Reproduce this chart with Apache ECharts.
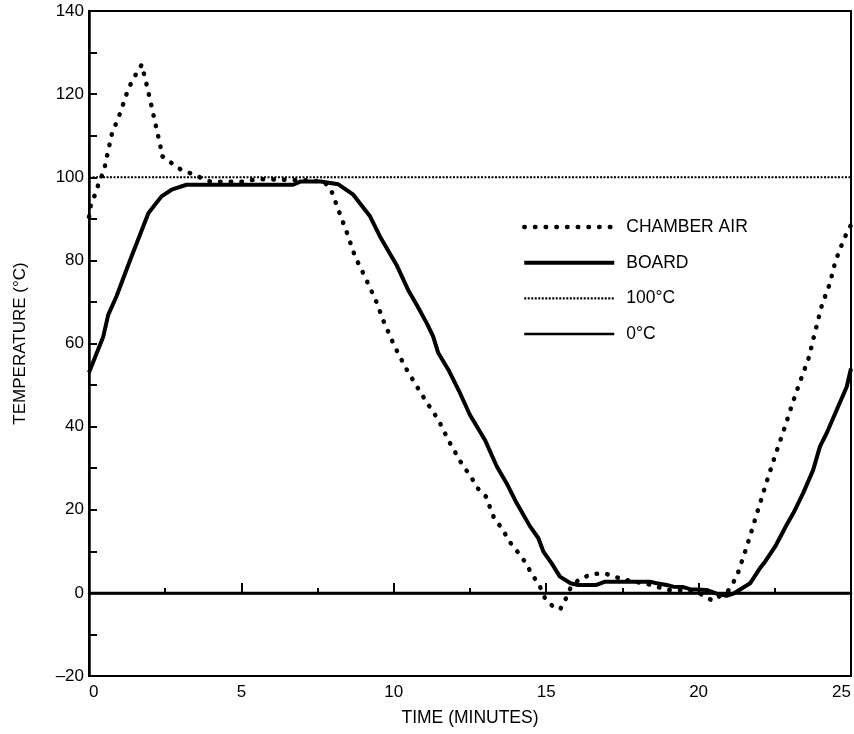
<!DOCTYPE html>
<html>
<head>
<meta charset="utf-8">
<script src="https://cdn.jsdelivr.net/npm/echarts@6/dist/echarts.min.js"></script>
<style>html,body{margin:0;padding:0;background:#fff}#c{width:854px;height:734px}</style>
</head>
<body>
<div id="c"></div>
<script>
// Time (minutes), temperature (°C)
const chamberTime = [0,0.07,0.23,0.33,0.49,0.58,0.75,1.03,1.29,1.47,1.73,1.9,2.08,2.25,2.34,2.36,2.95,4.0,5.0,5.5,5.93,7.0,7.7,7.94,8.2,8.46,8.73,9.07,9.43,9.69,10.04,10.4,10.83,11.1,11.45,11.8,12.24,12.5,12.76,13.02,13.29,13.55,13.81,14.08,14.34,14.52,14.77,14.96,15.29,15.47,15.65,15.81,16.09,16.52,16.96,17.49,18.46,18.97,19.5,20.0,20.46,20.98,21.25,21.6,21.95,22.3,22.56,22.83,23.08,23.35,23.61,23.87,24.05,24.31,24.48,24.75,24.91,25];
const chamberTemp = [90.5,93.8,96.3,98.9,101.5,104.7,110.4,115.6,121.3,123.9,127.1,122,116.2,110.4,107.9,105.3,102.1,98.9,98.9,99.5,99.5,99.3,99,97,91.8,86.7,80.9,75.8,70,64.9,59.1,54,48.8,45.6,41.8,36.6,30.9,28.3,25.1,23.2,18,15.5,12.2,9.7,7.1,4.6,1.9,-1.3,-3.8,-3.8,-1.3,1.4,3.3,4.6,4.6,3.3,1.9,0.7,0.7,0,-1.9,0.6,3.9,11.6,20,28.3,34.1,39.9,45.6,51.3,56.5,64.2,69.4,74.5,79.6,84.8,87.3,88.5];

const boardTime = [0,0.47,0.63,0.9,1.35,1.67,1.95,2.38,2.71,3.2,6.7,6.95,7.6,8.18,8.67,9.22,9.55,10.09,10.47,10.75,11.08,11.29,11.46,11.79,12.17,12.5,12.99,13.38,13.7,14.03,14.47,14.74,14.91,15.18,15.45,15.8,16.05,16.65,16.93,18.4,18.62,18.95,19.17,19.5,19.72,20.26,20.59,20.92,21.14,21.69,22.01,22.18,22.51,22.89,23.11,23.43,23.76,23.98,24.2,24.53,24.86,25];
const boardTemp = [53,61.7,66.9,71.3,80.1,86.1,91.4,95.4,97,98.2,98.2,99,99,98.3,95.8,90.6,85.7,78.9,72.9,69.3,64.9,61.7,57.7,53.7,48.1,42.8,36.8,30.4,26.4,21.6,16,13.2,9.9,7.1,3.9,2.3,1.9,1.9,2.7,2.7,2.3,1.9,1.5,1.4,0.9,0.7,-0.2,-0.7,-0.2,2.3,5.9,7.5,11.1,16.4,19.2,24,29.6,35.2,38.4,44,49.6,54];

const refTime = [0, 25];
const ref100 = [100, 100];
const ref0 = [0, 0];

const seriesNames = ['CHAMBER AIR', 'BOARD', '100°C', '0°C'];
const xTicks = [0, 5, 10, 15, 20, 25];
const yTicks = [-20, 0, 20, 40, 60, 80, 100, 120, 140];

const zip = (a, b) => a.map((v, i) => [v, b[i]]);
const FONT = '"Liberation Sans", Arial, sans-serif';
const chamberDash = [0.5, 10.2];
const refDash = [2, 1.5];

const chart = echarts.init(document.getElementById('c'), null, {renderer: 'canvas'});
chart.setOption({
  animation: false,
  backgroundColor: '#fff',
  textStyle: {fontFamily: FONT, color: '#000'},
  grid: {left: 89, right: 3, top: 11, bottom: 58, show: true, borderColor: '#000', borderWidth: 2},
  legend: {
    orient: 'vertical', left: 522, top: 218, itemWidth: 90, itemHeight: 14, itemGap: 17.7, padding: 0,
    itemStyle: {opacity: 0},
    textStyle: {fontFamily: FONT, fontSize: 17.5, color: '#000', padding: [0, 0, 0, 7]},
    data: [
      {name: seriesNames[0], itemStyle: {opacity: 0}, lineStyle: {width: 4.5, type: chamberDash, cap: 'round', color: '#000'}},
      {name: seriesNames[1], itemStyle: {opacity: 0}, lineStyle: {width: 4, color: '#000'}},
      {name: seriesNames[2], itemStyle: {opacity: 0}, lineStyle: {width: 2.2, type: refDash, color: '#000'}},
      {name: seriesNames[3], itemStyle: {opacity: 0}, lineStyle: {width: 2.5, color: '#000'}}
    ]
  },
  xAxis: {
    type: 'value', min: xTicks[0], max: xTicks[xTicks.length - 1], interval: 5,
    name: 'TIME (MINUTES)', nameLocation: 'middle', nameGap: 33,
    nameTextStyle: {fontFamily: FONT, fontSize: 17.5, color: '#000'},
    axisLine: {lineStyle: {color: '#000', width: 2.5}},
    axisTick: {inside: true, length: 10, lineStyle: {color: '#000', width: 2}},
    minorTick: {show: true, splitNumber: 2, length: 5, lineStyle: {color: '#000', width: 2}},
    splitLine: {show: false},
    axisLabel: {fontFamily: FONT, fontSize: 17, color: '#000', margin: 8, alignMinLabel: 'left', alignMaxLabel: 'right'}
  },
  yAxis: {
    type: 'value', min: yTicks[0], max: yTicks[yTicks.length - 1], interval: 20,
    name: 'TEMPERATURE (°C)', nameLocation: 'middle', nameGap: 60,
    nameTextStyle: {fontFamily: FONT, fontSize: 17, color: '#000'},
    axisLine: {lineStyle: {color: '#000', width: 2.5}},
    axisTick: {inside: true, length: 8, lineStyle: {color: '#000', width: 2}},
    minorTick: {show: true, splitNumber: 2, length: 8, lineStyle: {color: '#000', width: 2}},
    splitLine: {show: false},
    axisLabel: {fontFamily: FONT, fontSize: 17, color: '#000', margin: 5,
      formatter: v => String(v).replace('-', '\u2013')}
  },
  series: [
    {name: seriesNames[2], type: 'line', data: zip(refTime, ref100), symbol: 'none', z: 1,
      itemStyle: {color: '#000'}, lineStyle: {color: '#000', width: 2.2, type: refDash}},
    {name: seriesNames[3], type: 'line', data: zip(refTime, ref0), symbol: 'none', z: 1,
      itemStyle: {color: '#000'}, lineStyle: {color: '#000', width: 2.5}},
    {name: seriesNames[0], type: 'line', data: zip(chamberTime, chamberTemp), symbol: 'none', z: 2,
      itemStyle: {color: '#000'}, lineStyle: {color: '#000', width: 4.5, type: chamberDash, cap: 'round'}},
    {name: seriesNames[1], type: 'line', data: zip(boardTime, boardTemp), symbol: 'none', z: 3,
      itemStyle: {color: '#000'}, lineStyle: {color: '#000', width: 4, join: 'round'}}
  ]
});
</script>
</body>
</html>
